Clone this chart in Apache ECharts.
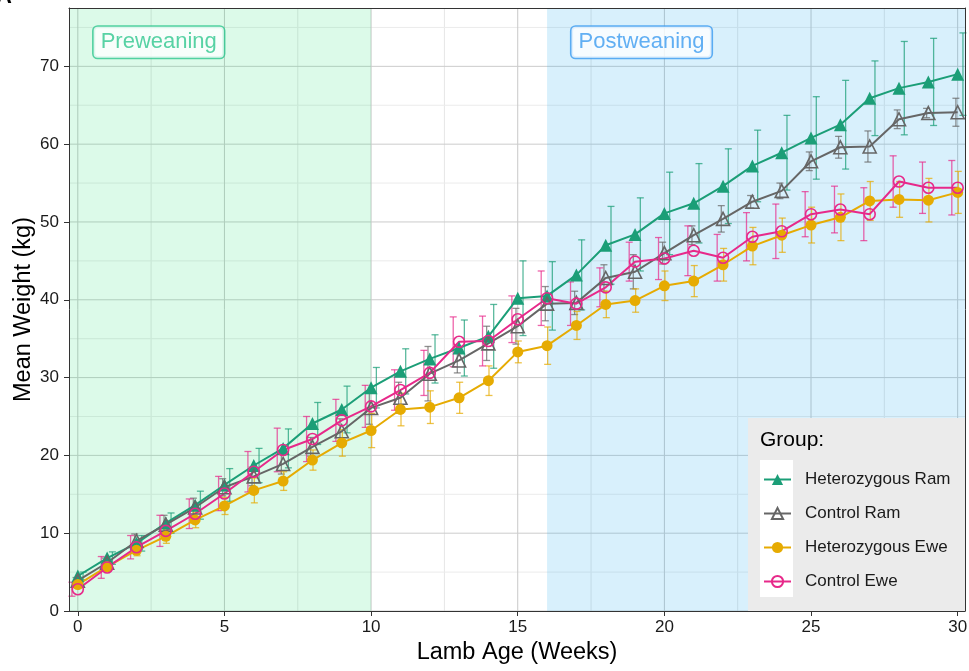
<!DOCTYPE html>
<html>
<head>
<meta charset="utf-8">
<title>Lamb growth by group</title>
<script src="https://cdn.jsdelivr.net/npm/echarts@6/dist/echarts.min.js"></script>
<style>
  html, body { margin: 0; padding: 0; background: #fff; }
  #chart { width: 969px; height: 671px; }
</style>
</head>
<body>
<div id="chart"></div>
<script>
// Weekly mean weight (kg) and standard error per group
const weeks = [0, 1, 2, 3, 4, 5, 6, 7, 8, 9, 10, 11, 12, 13, 14, 15, 16, 17, 18, 19, 20, 21, 22, 23, 24, 25, 26, 27, 28, 29, 30];

const hetRam   = [4.5, 6.8, 8.7, 11.3, 13.6, 16.2, 18.7, 20.9, 24.1, 25.9, 28.7, 30.8, 32.4, 33.8, 35.3, 40.2, 40.5, 43.2, 47.0, 48.4, 51.1, 52.4, 54.6, 57.2, 58.9, 60.8, 62.5, 65.9, 67.2, 68.0, 69.0];
const hetRamSE = [0.5, 0.8, 1.0, 1.3, 1.8, 2.1, 2.2, 2.5, 2.7, 3.0, 2.6, 2.9, 3.1, 3.6, 4.1, 4.8, 4.4, 4.5, 5.0, 4.7, 5.3, 5.1, 4.8, 4.6, 4.8, 5.3, 5.7, 4.8, 6.0, 5.6, 5.3];

const ctrlRam   = [3.9, 6.2, 9.0, 11.1, 13.3, 15.9, 17.3, 18.9, 21.1, 23.1, 26.1, 27.4, 30.5, 32.2, 34.4, 36.6, 39.5, 39.6, 42.8, 43.6, 46.0, 48.3, 50.4, 52.6, 54.0, 57.8, 59.6, 59.7, 63.2, 64.0, 64.1];
const ctrlRamSE = [0.4, 0.6, 0.9, 1.2, 1.2, 1.1, 1.2, 1.3, 1.2, 1.6, 2.1, 2.0, 3.5, 1.6, 2.2, 2.3, 2.2, 1.5, 1.7, 2.2, 1.4, 1.2, 1.7, 0.8, 1.0, 1.2, 1.4, 2.0, 1.2, 0.6, 1.8];

const hetEwe   = [3.4, 5.7, 7.8, 9.6, 11.7, 13.5, 15.5, 16.7, 19.4, 21.6, 23.2, 25.9, 26.2, 27.4, 29.6, 33.3, 34.1, 36.7, 39.4, 39.9, 41.8, 42.4, 44.5, 46.9, 48.3, 49.6, 50.6, 52.7, 52.9, 52.8, 53.8];
const hetEweSE = [0.5, 0.6, 0.7, 0.9, 1.0, 1.1, 1.6, 1.2, 1.3, 1.7, 2.2, 2.1, 2.1, 2.0, 1.9, 1.4, 2.4, 1.8, 1.7, 1.5, 1.9, 2.0, 2.1, 2.4, 2.2, 2.3, 3.0, 2.5, 2.3, 2.8, 2.7];

const ctrlEwe   = [2.8, 5.6, 8.2, 10.3, 12.5, 15.1, 17.9, 20.7, 22.1, 24.5, 26.3, 28.4, 30.6, 34.6, 34.7, 37.5, 40.2, 39.5, 41.6, 44.9, 45.3, 46.3, 45.4, 48.1, 48.8, 51.0, 51.6, 51.0, 55.2, 54.4, 54.4];
const ctrlEweSE = [0.9, 1.4, 1.5, 2.0, 1.9, 2.2, 2.6, 2.8, 2.9, 2.7, 2.7, 2.6, 2.9, 3.2, 3.2, 3.0, 3.5, 2.8, 2.5, 2.5, 2.7, 3.2, 3.0, 3.1, 3.5, 2.9, 3.0, 3.4, 3.3, 3.3, 3.5];

// Axis ticks and gridlines
const xTicks = [0, 5, 10, 15, 20, 25, 30];
const xMinor = [2.5, 7.5, 12.5, 17.5, 22.5, 27.5];
const yTicks = [0, 10, 20, 30, 40, 50, 60, 70];
const yMinor = [5, 15, 25, 35, 45, 55, 65, 75];

const X_MIN = -0.3, X_MAX = 30.25, Y_MIN = 0, Y_MAX = 77.5;

// Weaning phases shaded behind the data
const phaseNames  = ['Preweaning', 'Postweaning'];
const phaseRanges = [[X_MIN, 10], [16, X_MAX]];
const phaseLabelPos = [[2.76, 73.1], [19.22, 73.1]];

const FONT = '"Liberation Sans", Arial, Helvetica, sans-serif';

const groups = [
  { name: 'Heterozygous Ram', mean: hetRam,  se: hetRamSE,  color: '#1b9e77', symbol: 'triangle', size: 13, hollow: false, dodge: 0.18 },
  { name: 'Control Ram',      mean: ctrlRam, se: ctrlRamSE, color: '#666666', symbol: 'triangle', size: 13, hollow: true,  dodge: -0.06 },
  { name: 'Heterozygous Ewe', mean: hetEwe,  se: hetEweSE,  color: '#e6ab02', symbol: 'circle',   size: 11, hollow: false, dodge: 0.02 },
  { name: 'Control Ewe',      mean: ctrlEwe, se: ctrlEweSE, color: '#e7298a', symbol: 'circle',   size: 11, hollow: true,  dodge: -0.2 }
];

const phaseFill   = ['rgba(40, 225, 120, 0.16)', 'rgba(40, 170, 240, 0.18)'];
const phaseStroke = ['#2fc78f', '#3b9bf0'];

const chart = echarts.init(document.getElementById('chart'), null, { renderer: 'canvas' });

const series = [];

// gridlines (minor then major), drawn under the shaded phases
function gridSeries(values, vertical, color) {
  return {
    type: 'custom', silent: true, z: 1,
    data: values.map(v => [v]),
    encode: vertical ? { x: 0 } : { y: 0 },
    renderItem: function (params, api) {
      const v = api.value(0);
      const a = vertical ? api.coord([v, Y_MIN]) : api.coord([X_MIN, v]);
      const b = vertical ? api.coord([v, Y_MAX]) : api.coord([X_MAX, v]);
      return { type: 'line', shape: { x1: a[0], y1: a[1], x2: b[0], y2: b[1] },
               style: { stroke: color, lineWidth: 1 } };
    }
  };
}
series.push(gridSeries(xMinor, true, '#e6e6e6'));
series.push(gridSeries(yMinor, false, '#ebebeb'));
series.push(gridSeries(xTicks, true, '#c8c8c8'));
series.push(gridSeries(yTicks, false, '#cccccc'));

// shaded weaning phases
series.push({
  type: 'custom', silent: true, z: 1.5,
  data: phaseRanges.map((r, i) => [r[0], r[1], i]),
  encode: { x: [0, 1] },
  renderItem: function (params, api) {
    const p0 = api.coord([api.value(0), Y_MAX]);
    const p1 = api.coord([api.value(1), Y_MIN]);
    return { type: 'rect', shape: { x: p0[0], y: p0[1], width: p1[0] - p0[0], height: p1[1] - p0[1] },
             style: { fill: phaseFill[api.value(2)] } };
  }
});

// error bars (mean ± SE), slightly dodged per group
groups.forEach(g => {
  series.push({
    type: 'custom', silent: true, z: 2,
    data: weeks.map((w, i) => [w, g.mean[i] - g.se[i], g.mean[i] + g.se[i]]),
    encode: { x: 0, y: [1, 2] },
    renderItem: function (params, api) {
      const x = api.value(0) + g.dodge;
      const lo = api.coord([x, api.value(1)]);
      const hi = api.coord([x, api.value(2)]);
      const h = 3.5;
      const st = { stroke: g.color, lineWidth: 1.3, opacity: 0.72 };
      return {
        type: 'group',
        children: [
          { type: 'line', shape: { x1: lo[0], y1: lo[1], x2: hi[0], y2: hi[1] }, style: st },
          { type: 'line', shape: { x1: hi[0] - h, y1: hi[1], x2: hi[0] + h, y2: hi[1] }, style: st },
          { type: 'line', shape: { x1: lo[0] - h, y1: lo[1], x2: lo[0] + h, y2: lo[1] }, style: st }
        ]
      };
    }
  });
});

// mean lines with markers
groups.forEach(g => {
  series.push({
    type: 'line', name: g.name, z: 3,
    data: weeks.map((w, i) => [w, g.mean[i]]),
    symbol: g.symbol, symbolSize: g.size, showAllSymbol: true,
    lineStyle: { color: g.color, width: 2 },
    itemStyle: g.hollow
      ? { color: 'rgba(255,255,255,0)', borderColor: g.color, borderWidth: 1.6 }
      : { color: g.color, borderWidth: 0 },
    emphasis: { disabled: true }
  });
});

// phase labels
series.push({
  type: 'scatter', silent: true, z: 4,
  symbolSize: 2, itemStyle: { color: 'rgba(0,0,0,0)' },
  data: phaseLabelPos.map((p, i) => ({
    value: p, name: phaseNames[i],
    label: {
      show: true, position: 'inside', formatter: '{b}',
      fontFamily: FONT, fontSize: 22, lineHeight: 23, color: phaseStroke[i],
      backgroundColor: '#ffffff', borderColor: phaseStroke[i], borderWidth: 1.6, borderRadius: 4,
      padding: [4, 7, 4, 7]
    }
  }))
});

const axisText = { fontFamily: FONT, fontSize: 17, color: '#1a1a1a' };

chart.setOption({
  animation: false,
  backgroundColor: '#ffffff',
  textStyle: { fontFamily: FONT },
  grid: { left: 69, right: 4, top: 8, bottom: 60, containLabel: false, outerBoundsMode: 'none' },
  xAxis: [
    {
      type: 'value', min: X_MIN, max: X_MAX, z: 10,
      name: 'Lamb Age (Weeks)', nameLocation: 'middle', nameGap: 28,
      nameTextStyle: { fontFamily: FONT, fontSize: 23.5, color: '#000' },
      axisLine: { show: true, onZero: false, lineStyle: { color: '#333', width: 1 } },
      axisTick: { show: true, length: 5, customValues: xTicks, lineStyle: { color: '#333' } },
      axisLabel: Object.assign({ customValues: xTicks, margin: 8 }, axisText),
      splitLine: { show: false }
    },
    {
      type: 'value', min: X_MIN, max: X_MAX, position: 'top', z: 10,
      axisLine: { show: true, onZero: false, lineStyle: { color: '#333', width: 1 } },
      axisTick: { show: false }, axisLabel: { show: false }, splitLine: { show: false }
    }
  ],
  yAxis: [
    {
      type: 'value', min: Y_MIN, max: Y_MAX, z: 10,
      name: 'Mean Weight (kg)', nameLocation: 'middle', nameGap: 33, nameMoveOverlap: false,
      nameTextStyle: { fontFamily: FONT, fontSize: 23.5, color: '#000' },
      axisLine: { show: true, onZero: false, lineStyle: { color: '#333', width: 1 } },
      axisTick: { show: true, length: 5, customValues: yTicks, lineStyle: { color: '#333' } },
      axisLabel: Object.assign({ customValues: yTicks, margin: 10 }, axisText),
      splitLine: { show: false }
    },
    {
      type: 'value', min: Y_MIN, max: Y_MAX, position: 'right', z: 10,
      axisLine: { show: true, onZero: false, lineStyle: { color: '#333', width: 1 } },
      axisTick: { show: false }, axisLabel: { show: false }, splitLine: { show: false }
    }
  ],
  legend: {
    data: groups.map(g => g.name),
    orient: 'vertical', left: 763, top: 471, z: 10,
    itemWidth: 27, itemHeight: 14, itemGap: 17, padding: 0,
    selectedMode: false,
    textStyle: { fontFamily: FONT, fontSize: 17, color: '#1a1a1a', padding: [0, 0, 0, 9] }
  },
  graphic: [
    { type: 'rect', z: 8, silent: true, shape: { x: 748, y: 418, width: 217, height: 193 }, style: { fill: '#ebebeb' } },
    { type: 'rect', z: 9, silent: true, shape: { x: 760, y: 460, width: 33, height: 137 }, style: { fill: '#ffffff' } },
    { type: 'text', z: 9, silent: true, left: 760, top: 430,
      style: { text: 'Group:', fontFamily: FONT, fontSize: 21, fill: '#000' } },
    { type: 'text', z: 9, silent: true, left: -4, top: -14,
      style: { text: 'A', fontFamily: FONT, fontSize: 22, fontWeight: 'bold', fill: '#000' } }
  ],
  series: series
});
</script>
</body>
</html>
